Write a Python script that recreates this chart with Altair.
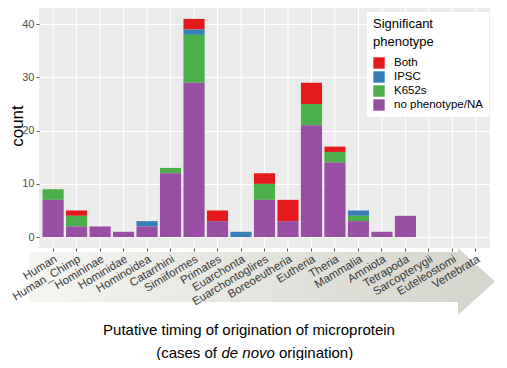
import altair as alt
import pandas as pd

# ---- data ----
cats = ["Human", "Human_Chimp", "Homininae", "Hominidae", "Hominoidea", "Catarrhini",
        "Simiiformes", "Primates", "Euarchonta", "Euarchontoglires", "Boreoeutheria",
        "Eutheria", "Theria", "Mammalia", "Amniota", "Tetrapoda", "Sarcopterygii",
        "Euteleostomi", "Vertebrata"]
no_pheno = [7, 2, 2, 1, 2, 12, 29, 3, 0, 7, 3, 21, 14, 3, 1, 4, 0, 0, 0]
k652s    = [2, 2, 0, 0, 0, 1, 9, 0, 0, 3, 0, 4, 2, 1, 0, 0, 0, 0, 0]
ipsc     = [0, 0, 0, 0, 1, 0, 1, 0, 1, 0, 0, 0, 0, 1, 0, 0, 0, 0, 0]
both     = [0, 1, 0, 0, 0, 0, 2, 2, 0, 2, 4, 4, 1, 0, 0, 0, 0, 0, 0]

groups = ["Both", "IPSC", "K652s", "no phenotype/NA"]
colors = ["#E41A1C", "#377EB8", "#4DAF4A", "#984EA3"]
series = {"Both": both, "IPSC": ipsc, "K652s": k652s, "no phenotype/NA": no_pheno}

rows = []
for g_i, g in enumerate(groups):
    for c, v in zip(cats, series[g]):
        if v > 0:
            rows.append({"clade": c, "phenotype": g, "count": v, "ord": g_i})
df = pd.DataFrame(rows)
cat_df = pd.DataFrame({"clade": cats})

FONT = "Liberation Sans"
W, H = 451, 240

xscale = alt.Scale(domain=cats, paddingInner=0.1, paddingOuter=0.15)
xaxis = alt.Axis(labelAngle=-31, labelAlign="right", labelBaseline="top",
                 labelFontSize=11.5, labelColor="#3a3a3a", labelFont=FONT,
                 labelPadding=2, tickSize=3, tickColor="#555555",
                 domain=False, grid=False, zindex=2, labelOverlap=False)

# decorative arrow behind the x labels
grad = alt.Gradient(
    gradient="linear",
    stops=[alt.GradientStop(color="#f5f5f1", offset=0),
           alt.GradientStop(color="#e4e4de", offset=0.55),
           alt.GradientStop(color="#d6d6ce", offset=1)],
    x1=0, x2=1, y1=0, y2=0)
arrow_body = alt.Chart(alt.Data(values=[{"a": 1}])).mark_rect(fill=grad).encode(
    x=alt.value(-10), x2=alt.value(420), y=alt.value(244), y2=alt.value(294))
arrow_head = alt.Chart(alt.Data(values=[{"a": 1}])).mark_point(
    shape="M-1,-1.81L1,0L-1,1.81Z", filled=True, fill="#d6d6ce", opacity=1,
    size=1369, strokeWidth=0).encode(
    x=alt.value(437.5), y=alt.value(273.5))

vgrid = alt.Chart(cat_df).mark_rule(color="white", strokeWidth=1).encode(
    x=alt.X("clade:N", scale=xscale, title=None, axis=xaxis),
    y=alt.value(0), y2=alt.value(H))

bars = alt.Chart(df).mark_bar().encode(
    x=alt.X("clade:N", scale=xscale, title=None, axis=xaxis),
    y=alt.Y("count:Q", stack="zero",
            scale=alt.Scale(domain=[-2.05, 43.05], nice=False, zero=False),
            title=None,
            axis=alt.Axis(values=[0, 10, 20, 30, 40], labelFontSize=11,
                          labelColor="#4D4D4D", labelFont=FONT, tickSize=3,
                          tickColor="#555555", domain=False, grid=True,
                          gridColor="white", gridWidth=1)),
    color=alt.Color("phenotype:N",
                    scale=alt.Scale(domain=groups, range=colors),
                    legend=alt.Legend(title=["Significant", "phenotype"],
                                      orient="none", legendX=328, legendY=4,
                                      fillColor="white", padding=6,
                                      titleFontSize=13, titleFontWeight="normal",
                                      titleColor="black", titleFont=FONT,
                                      titleLineHeight=18, titlePadding=8,
                                      labelFontSize=11.5, labelColor="black",
                                      labelFont=FONT, symbolType="square",
                                      symbolSize=130, symbolStrokeWidth=0,
                                      labelOffset=9, rowPadding=2)),
    order=alt.Order("ord:Q", sort="descending"))

def txt(s, x, y, align="center", style="normal", size=15, angle=0):
    return alt.Chart(alt.Data(values=[{"t": s}])).mark_text(
        font=FONT, fontSize=size, fontStyle=style, color="black", align=align,
        baseline="middle", angle=angle).encode(
        text="t:N", x=alt.value(x), y=alt.value(y))

ytitle = txt("count", -21, 118, size=17, angle=270)
t1 = txt("Putative timing of origination of microprotein", 210, 322)
t2a = txt("(cases of", 178, 345, align="right")
t2b = txt("de novo", 182.5, 345, align="left", style="italic")
t2c = txt("origination)", 240, 345, align="left")

chart = alt.layer(arrow_body, arrow_head, vgrid, bars, ytitle, t1, t2a, t2b, t2c).properties(
    width=W, height=H,
    autosize=alt.AutoSizeParams(type="none"),
    padding={"left": 31, "top": 0, "right": 8, "bottom": 112},
    background="white",
).configure_view(fill="#EBEBEB", stroke=None)

chart.save("out.html", embed_options={"renderer": "svg", "actions": False})
